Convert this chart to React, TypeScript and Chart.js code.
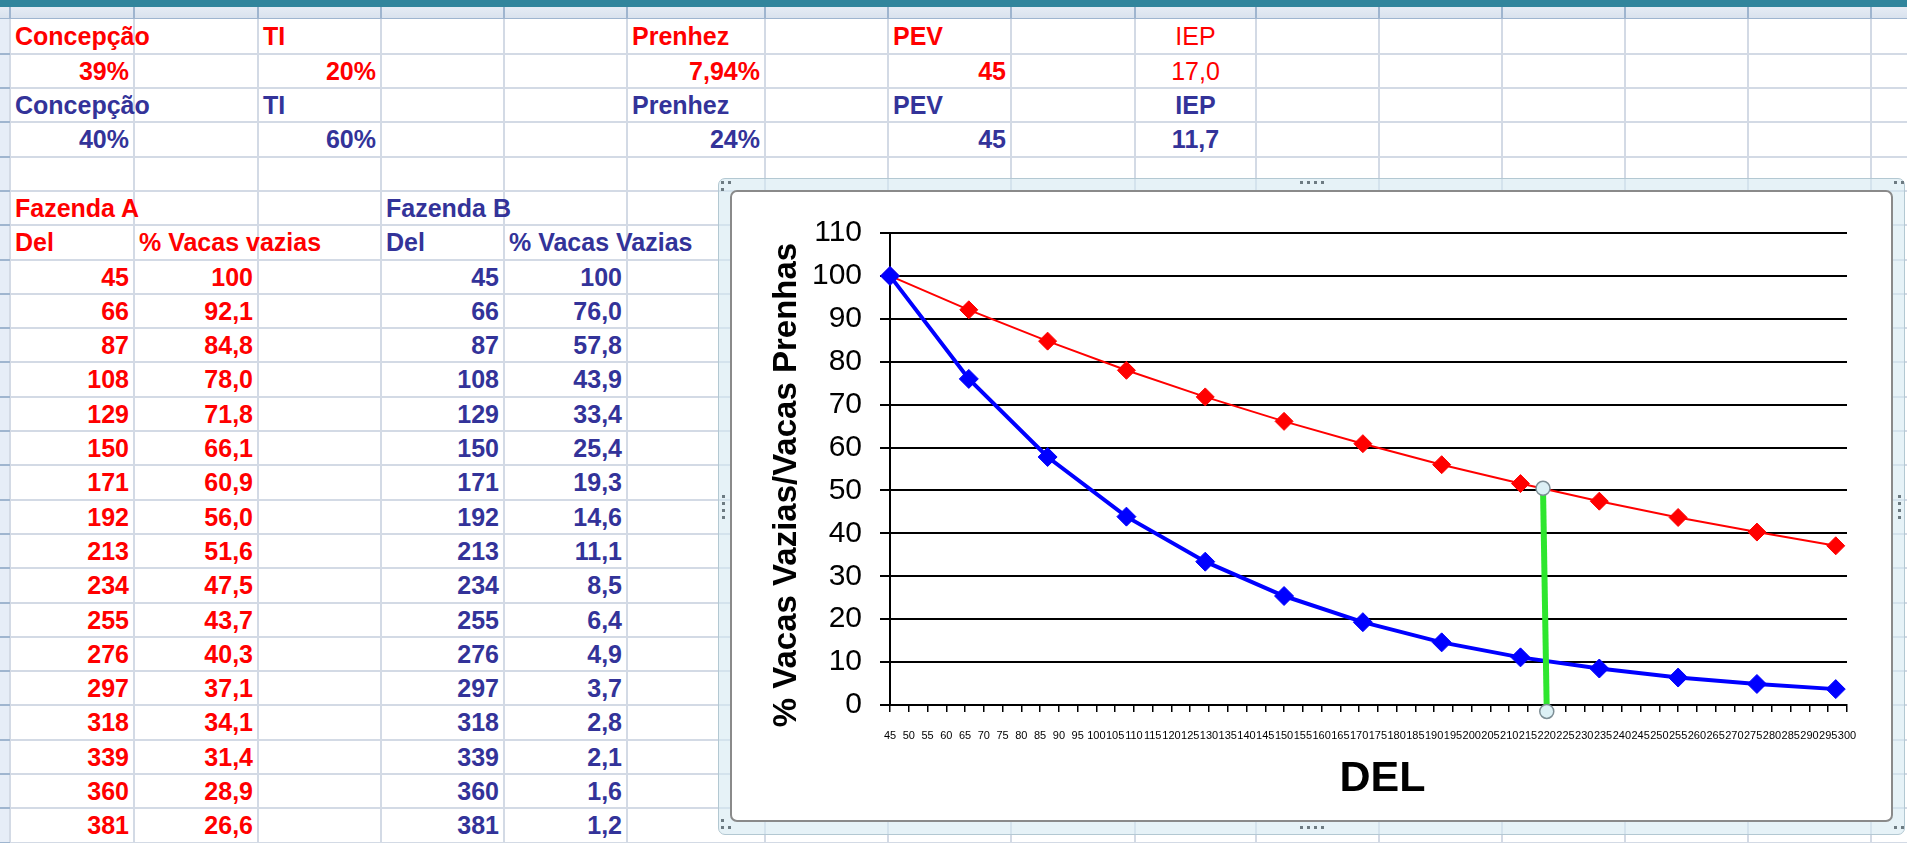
import React, { useEffect, useRef } from "react";
import { Chart, registerables } from "chart.js";

Chart.register(...registerables);

// ---------- DATA ----------
const delA = [45, 66, 87, 108, 129, 150, 171, 192, 213, 234, 255, 276, 297, 318, 339, 360, 381];
const vaziasA = [100, 92.1, 84.8, 78.0, 71.8, 66.1, 60.9, 56.0, 51.6, 47.5, 43.7, 40.3, 37.1, 34.1, 31.4, 28.9, 26.6];
const delB = [45, 66, 87, 108, 129, 150, 171, 192, 213, 234, 255, 276, 297, 318, 339, 360, 381];
const vaziasB = [100, 76.0, 57.8, 43.9, 33.4, 25.4, 19.3, 14.6, 11.1, 8.5, 6.4, 4.9, 3.7, 2.8, 2.1, 1.6, 1.2];

const summaryLabels = ["Concepção", "TI", "Prenhez", "PEV", "IEP"];
const summaryValuesA = ["39%", "20%", "7,94%", "45", "17,0"];
const summaryValuesB = ["40%", "60%", "24%", "45", "11,7"];

const farmTitles = ["Fazenda A", "Fazenda B"];
const colTitlesA = ["Del", "% Vacas vazias"];
const colTitlesB = ["Del", "% Vacas Vazias"];

const xAxisMin = 45;
const xAxisMax = 300;
const xAxisStep = 5;
const yAxisMin = 0;
const yAxisMax = 110;
const yAxisStep = 10;
const xTitle = "DEL";
const yTitle = "% Vacas Vazias/Vacas Prenhas";

// drawn green marker line (Excel shape) in data units
const markerX = [219, 220];
const markerY = [50.5, -1.5];

const colLetters = ["A", "B", "C", "D", "E", "F", "G", "H", "I", "J", "K", "L", "M", "N", "O", "P"];

// ---------- LAYOUT / STYLE ----------
const FONT = 'Arial, "Liberation Sans", Helvetica, sans-serif';
const RED = "#ff0000";
const BLUE = "#333399";
const GRID = "#d3dae5";
const HDR_LINE = "#9fb5cf";
const COL_X = [10, 134, 258, 381, 504, 627, 765, 888, 1011, 1135, 1256, 1379, 1502, 1625, 1748, 1871, 1994];
const ROW_TOP = 19.4;
const ROW_H = 34.3;
const SUMMARY_COLS = [0, 2, 5, 7, 9];

type Align = "left" | "right" | "center";

function Cell(props: { col: number; row: number; text: string; align: Align; color: string; bold?: boolean }) {
  const { col, row, text, align, color, bold = true } = props;
  const left = COL_X[col];
  const width = COL_X[col + 1] - COL_X[col];
  const top = ROW_TOP + row * ROW_H;
  return (
    <div
      style={{
        position: "absolute",
        left,
        top,
        width,
        height: ROW_H,
        lineHeight: ROW_H + "px",
        textAlign: align,
        color,
        fontWeight: bold ? 700 : 400,
        fontSize: 25,
        whiteSpace: "nowrap",
        padding: "0 5px",
        boxSizing: "border-box",
        overflow: "visible",
      }}
    >
      {text}
    </div>
  );
}

function fmt(v: number, i: number) {
  return i === 0 ? String(v) : v.toFixed(1).replace(".", ",");
}

// Axis titles placed like Excel does (slightly off the axis centre)
const axisTitlePlugin = {
  id: "excelAxisTitles",
  afterDraw(chart: any, _args: any, opts: any) {
    const { ctx, chartArea } = chart;
    ctx.save();
    ctx.fillStyle = "#000";
    ctx.textAlign = "center";
    ctx.textBaseline = "middle";
    // y title
    ctx.font = `bold ${opts.yFontSize}px ${FONT}`;
    ctx.translate(opts.yTitleX, (chartArea.top + chartArea.bottom) / 2 + opts.yShift);
    ctx.rotate(-Math.PI / 2);
    ctx.fillText(opts.yText, 0, 0);
    ctx.restore();
    ctx.save();
    ctx.fillStyle = "#000";
    ctx.textAlign = "center";
    ctx.textBaseline = "middle";
    ctx.font = `bold ${opts.xFontSize}px ${FONT}`;
    ctx.fillText(opts.xText, (chartArea.left + chartArea.right) / 2 + opts.xShift, opts.xTitleY);
    ctx.restore();
  },
};

function DelChart() {
  const ref = useRef<HTMLCanvasElement | null>(null);
  useEffect(() => {
    if (!ref.current) return;
    const nA = delA.filter((d) => d <= xAxisMax).length;
    const nB = delB.filter((d) => d <= xAxisMax).length;
    const ptsA = delA.slice(0, nA).map((x, i) => ({ x, y: vaziasA[i] }));
    const ptsB = delB.slice(0, nB).map((x, i) => ({ x, y: vaziasB[i] }));
    const ptsM = markerX.map((x, i) => ({ x, y: markerY[i] }));
    const chart = new Chart(ref.current, {
      type: "line",
      plugins: [axisTitlePlugin],
      data: {
        datasets: [
          {
            label: "Marcador",
            data: ptsM,
            borderColor: "#2ee62e",
            borderWidth: 6,
            pointStyle: "circle",
            pointRadius: 7,
            pointBackgroundColor: "#dcf0f5",
            pointBorderColor: "#7d8e95",
            pointBorderWidth: 1.5,
            clip: false,
            order: 0,
          } as any,
          {
            label: "Fazenda B",
            data: ptsB,
            borderColor: "#0000ff",
            borderWidth: 4,
            pointStyle: "rectRot",
            pointRadius: 9.5,
            pointBackgroundColor: "#0000ff",
            pointBorderColor: "#0000ff",
            pointBorderWidth: 1,
            clip: false,
            order: 1,
          } as any,
          {
            label: "Fazenda A",
            data: ptsA,
            borderColor: "#ff0000",
            borderWidth: 2,
            pointStyle: "rectRot",
            pointRadius: 9,
            pointBackgroundColor: "#ff0000",
            pointBorderColor: "#ff0000",
            pointBorderWidth: 1,
            clip: false,
            order: 2,
          } as any,
        ],
      },
      options: {
        animation: false,
        responsive: false,
        maintainAspectRatio: false,
        events: [],
        layout: { padding: { left: 0, top: 41, right: 44, bottom: 0 } },
        plugins: {
          legend: { display: false },
          tooltip: { enabled: false },
          title: { display: false },
          excelAxisTitles: {
            yText: yTitle,
            yFontSize: 33,
            yTitleX: 55,
            yShift: 16,
            xText: xTitle,
            xFontSize: 43,
            xShift: 14,
            xTitleY: 587,
          },
        },
        scales: {
          x: {
            type: "linear",
            min: xAxisMin,
            max: xAxisMax,
            ticks: {
              stepSize: xAxisStep,
              autoSkip: false,
              maxRotation: 0,
              minRotation: 0,
              font: { family: FONT, size: 11 },
              color: "#000",
              padding: 17.4,
            },
            grid: {
              drawOnChartArea: false,
              drawTicks: true,
              tickLength: 7,
              color: "#000",
              lineWidth: 1.5,
            },
            border: { display: true, color: "#000", width: 2 },
            title: { display: false, text: xTitle },
            afterFit: (s: any) => {
              s.height = 115;
            },
          },
          y: {
            type: "linear",
            min: yAxisMin,
            max: yAxisMax,
            ticks: {
              stepSize: yAxisStep,
              font: { family: FONT, size: 30 },
              color: "#000",
              padding: 18,
            },
            grid: {
              color: "#000",
              lineWidth: 2,
              tickLength: 10,
              drawTicks: true,
            },
            border: { display: true, color: "#000", width: 2 },
            title: { display: false, text: yTitle },
            afterFit: (s: any) => {
              s.width = 158;
            },
          },
        },
      } as any,
    });
    return () => chart.destroy();
  }, []);
  return (
    <canvas
      ref={ref}
      width={1159}
      height={628}
      style={{ position: "absolute", left: 732, top: 192, width: 1159, height: 628 }}
    />
  );
}

function Dots(props: { x: number; y: number; n: number; vertical?: boolean }) {
  const { x, y, n, vertical } = props;
  return (
    <>
      {Array.from({ length: n }, (_, i) => (
        <div
          key={i}
          style={{
            position: "absolute",
            left: vertical ? x : x + i * 7,
            top: vertical ? y + i * 7 : y,
            width: 3,
            height: 3,
            background: "#6d7b82",
          }}
        />
      ))}
    </>
  );
}

export default function App() {
  const rows: React.ReactNode[] = [];
  // summary block
  SUMMARY_COLS.forEach((c, i) => {
    const isIEP = i === 4;
    rows.push(<Cell key={"la" + i} col={c} row={0} text={summaryLabels[i]} align={isIEP ? "center" : "left"} color={RED} bold={!isIEP} />);
    rows.push(<Cell key={"va" + i} col={c} row={1} text={summaryValuesA[i]} align={isIEP ? "center" : "right"} color={RED} bold={!isIEP} />);
    rows.push(<Cell key={"lb" + i} col={c} row={2} text={summaryLabels[i]} align={isIEP ? "center" : "left"} color={BLUE} />);
    rows.push(<Cell key={"vb" + i} col={c} row={3} text={summaryValuesB[i]} align={isIEP ? "center" : "right"} color={BLUE} />);
  });
  rows.push(<Cell key="fa" col={0} row={5} text={farmTitles[0]} align="left" color={RED} />);
  rows.push(<Cell key="fb" col={3} row={5} text={farmTitles[1]} align="left" color={BLUE} />);
  rows.push(<Cell key="ha0" col={0} row={6} text={colTitlesA[0]} align="left" color={RED} />);
  rows.push(<Cell key="ha1" col={1} row={6} text={colTitlesA[1]} align="left" color={RED} />);
  rows.push(<Cell key="hb0" col={3} row={6} text={colTitlesB[0]} align="left" color={BLUE} />);
  rows.push(<Cell key="hb1" col={4} row={6} text={colTitlesB[1]} align="left" color={BLUE} />);
  delA.forEach((d, i) => {
    rows.push(<Cell key={"da" + i} col={0} row={7 + i} text={String(d)} align="right" color={RED} />);
    rows.push(<Cell key={"pa" + i} col={1} row={7 + i} text={fmt(vaziasA[i], i)} align="right" color={RED} />);
  });
  delB.forEach((d, i) => {
    rows.push(<Cell key={"db" + i} col={3} row={7 + i} text={String(d)} align="right" color={BLUE} />);
    rows.push(<Cell key={"pb" + i} col={4} row={7 + i} text={fmt(vaziasB[i], i)} align="right" color={BLUE} />);
  });

  return (
    <div
      style={{
        position: "fixed",
        left: 0,
        top: 0,
        width: 1907,
        height: 843,
        overflow: "hidden",
        background: "#fff",
        fontFamily: FONT,
      }}
    >
      {/* column header row */}
      <div style={{ position: "absolute", left: 0, top: 0, width: 1907, height: ROW_TOP, background: "linear-gradient(#eef2f8, #d9e2ee)", borderBottom: "1px solid " + HDR_LINE, boxSizing: "border-box" }} />
      {colLetters.map((l, i) => (
        <div
          key={l}
          style={{
            position: "absolute",
            left: COL_X[i],
            top: -6,
            width: COL_X[i + 1] - COL_X[i],
            height: 16,
            lineHeight: "16px",
            fontSize: 15,
            textAlign: "center",
            color: "#2a2a2a",
          }}
        >
          {l}
        </div>
      ))}
      <div style={{ position: "absolute", left: 0, top: 0, width: 1907, height: 7, background: "#31859c" }} />
      {COL_X.map((x, i) => (
        <div key={"hc" + i} style={{ position: "absolute", left: x - 1, top: 7, width: 2, height: ROW_TOP - 7, background: HDR_LINE }} />
      ))}
      {/* row header strip */}
      <div style={{ position: "absolute", left: 0, top: ROW_TOP, width: 10, height: 843, background: "#e6edf7", borderRight: "1px solid " + HDR_LINE, boxSizing: "border-box" }} />
      {/* sheet gridlines */}
      {COL_X.map((x, i) => (
        <div key={"vc" + i} style={{ position: "absolute", left: x - 1, top: ROW_TOP, width: 2, height: 843, background: GRID }} />
      ))}
      {Array.from({ length: 25 }, (_, k) => (
        <React.Fragment key={"hr" + k}>
          <div style={{ position: "absolute", left: 10, top: ROW_TOP + (k + 1) * ROW_H - 1, width: 1897, height: 2, background: GRID }} />
          <div style={{ position: "absolute", left: 0, top: ROW_TOP + (k + 1) * ROW_H - 1, width: 10, height: 2, background: HDR_LINE }} />
        </React.Fragment>
      ))}
      {rows}

      {/* chart frame */}
      <div
        style={{
          position: "absolute",
          left: 718,
          top: 178,
          width: 1187,
          height: 657,
          borderRadius: 7,
          border: "1px solid #b3c8d2",
          background: "rgba(214,234,241,0.6)",
          boxSizing: "border-box",
        }}
      />
      <div
        style={{
          position: "absolute",
          left: 730,
          top: 190,
          width: 1163,
          height: 632,
          borderRadius: 7,
          border: "2px solid #8a8a8a",
          background: "#fff",
          boxSizing: "border-box",
        }}
      />
      <Dots x={1300} y={181} n={4} />
      <Dots x={1300} y={826} n={4} />
      <Dots x={722} y={495} n={4} vertical />
      <Dots x={1898} y={495} n={4} vertical />
      <Dots x={721} y={181} n={2} />
      <Dots x={721} y={188} n={1} />
      <Dots x={1894} y={181} n={2} />
      <Dots x={721} y={826} n={2} />
      <Dots x={721} y={819} n={1} />
      <Dots x={1894} y={826} n={2} />
      <DelChart />
    </div>
  );
}
